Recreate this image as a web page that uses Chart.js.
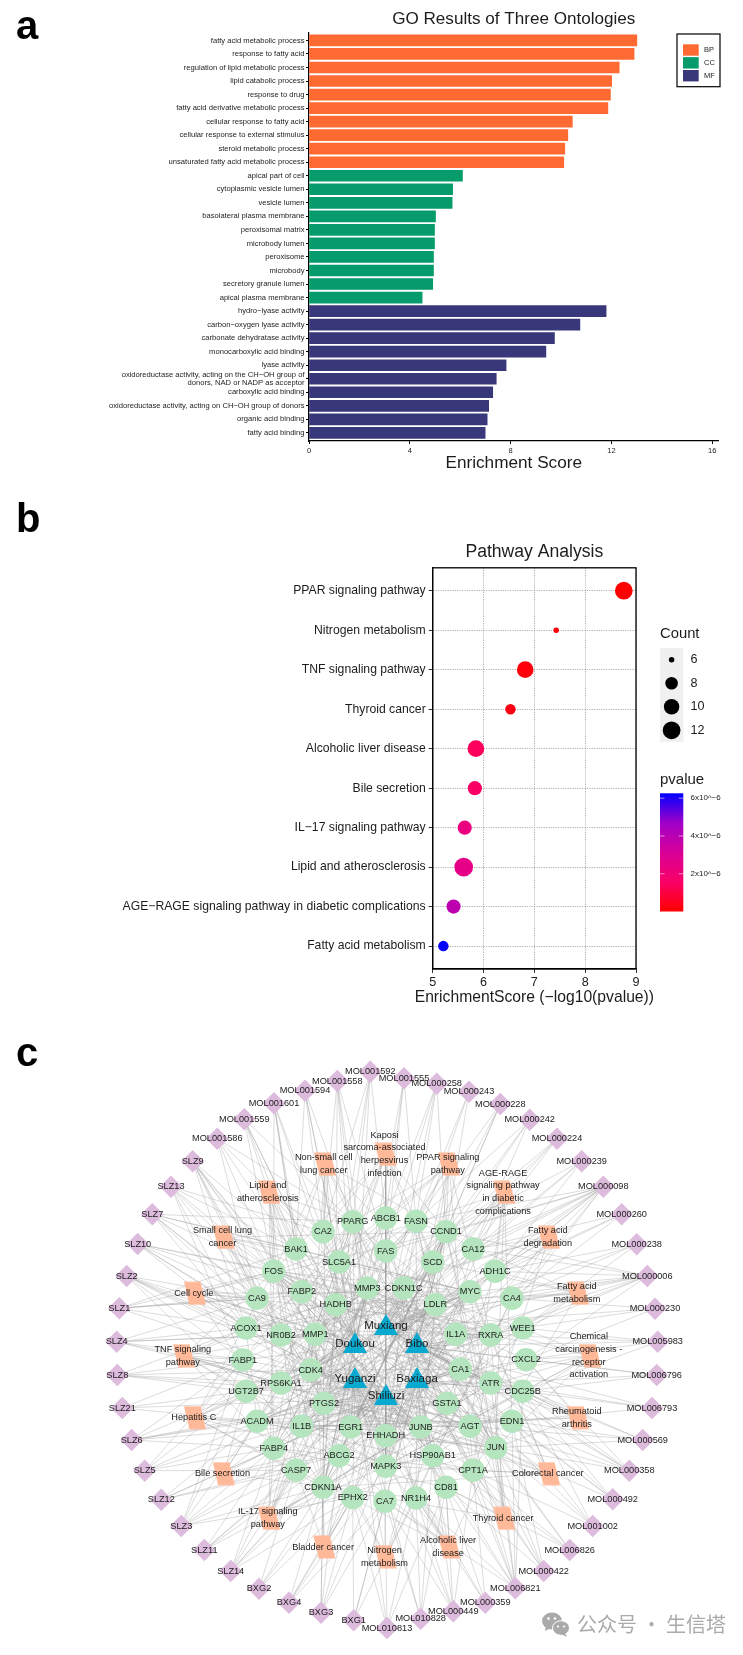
<!DOCTYPE html>
<html lang="en">
<head>
<meta charset="UTF-8">
<title>GO, pathway and network figure</title>
<script src="https://cdn.jsdelivr.net/npm/chart.js"></script>
<style>
    html, body { margin: 0; padding: 0; background: #fff; }
    #page { position: relative; width: 743px; height: 1655px; overflow: hidden; font-family: "Liberation Sans", Arial, sans-serif; }
    canvas { position: absolute; left: 0; filter: blur(0.35px); }
    .tag { position: absolute; left: 16px; font-weight: bold; font-size: 40px; line-height: 1; color: #000; }
    #mark { position: absolute; left: 577px; top: 1609px; font-family: "Noto Sans CJK SC"; font-size: 20px; line-height: 30px; color: #aaa; white-space: pre; }
    #logo { position: absolute; left: 541px; top: 1612px; }
</style>
</head>
<body>
<div id="page">
    <canvas id="goChart" style="top:0" width="743" height="480"></canvas>
    <canvas id="pathChart" style="top:490px" width="743" height="530"></canvas>
    <canvas id="netChart" style="top:1030px" width="743" height="625"></canvas>
    <div class="tag" style="top:5px">a</div>
    <div class="tag" style="top:498px">b</div>
    <div class="tag" style="top:1032px">c</div>
    <svg id="logo" width="30" height="26" viewBox="0 0 30 26">
        <ellipse cx="11" cy="9" rx="10" ry="8.5" fill="#aaa"/>
        <path d="M5 14 L4 19 L10 16 Z" fill="#aaa"/>
        <ellipse cx="20" cy="16" rx="8.5" ry="7.3" fill="#aaa" stroke="#fff" stroke-width="1"/>
        <path d="M24 21 L26 25 L20 22 Z" fill="#aaa"/>
        <circle cx="7.5" cy="6.5" r="1.3" fill="#fff"/><circle cx="14" cy="6.5" r="1.3" fill="#fff"/>
        <circle cx="17" cy="14.5" r="1.1" fill="#fff"/><circle cx="23" cy="14.5" r="1.1" fill="#fff"/>
    </svg>
    <div id="mark">公众号 · 生信塔</div>
</div>

<script>
    const FONT = '"Liberation Sans", Arial, sans-serif';
    const INK = '#1c1c1c';

    // panel a
    const bpTerms = ['fatty acid metabolic process', 'response to fatty acid', 'regulation of lipid metabolic process', 'lipid catabolic process', 'response to drug', 'fatty acid derivative metabolic process', 'cellular response to fatty acid', 'cellular response to external stimulus', 'steroid metabolic process', 'unsaturated fatty acid metabolic process'];
    const bpScores = [13.01, 12.9, 12.31, 12.01, 11.96, 11.86, 10.45, 10.27, 10.15, 10.11];
    const ccTerms = ['apical part of cell', 'cytoplasmic vesicle lumen', 'vesicle lumen', 'basolateral plasma membrane', 'peroxisomal matrix', 'microbody lumen', 'peroxisome', 'microbody', 'secretory granule lumen', 'apical plasma membrane'];
    const ccScores = [6.09, 5.7, 5.68, 5.02, 4.98, 4.98, 4.94, 4.94, 4.91, 4.49];
    const mfTerms = ['hydro−lyase activity', 'carbon−oxygen lyase activity', 'carbonate dehydratase activity', 'monocarboxylic acid binding', 'lyase activity', ['oxidoreductase activity, acting on the CH−OH group of', 'donors, NAD or NADP as acceptor'], 'carboxylic acid binding', 'oxidoreductase activity, acting on CH−OH group of donors', 'organic acid binding', 'fatty acid binding'];
    const mfScores = [11.79, 10.75, 9.74, 9.4, 7.82, 7.43, 7.29, 7.13, 7.07, 6.99];
    const goTicks = [0, 4, 8, 12, 16];
    const goLegend = ['BP', 'CC', 'MF'];
    const goColors = ['#ff6a33', '#069b6b', '#38377a'];

    // panel b
    const pathwayTerms = ['PPAR signaling pathway', 'Nitrogen metabolism', 'TNF signaling pathway', 'Thyroid cancer', 'Alcoholic liver disease', 'Bile secretion', 'IL−17 signaling pathway', 'Lipid and atherosclerosis', 'AGE−RAGE signaling pathway in diabetic complications', 'Fatty acid metabolism'];
    const pathwayScores = [8.76, 7.43, 6.82, 6.53, 5.85, 5.83, 5.63, 5.61, 5.41, 5.21];
    const pathwayCounts = [12, 6, 11, 7, 11, 9, 9, 13, 9, 7];
    const pathwayP = [0.002e-6, 0.04e-6, 0.15e-6, 0.3e-6, 1.4e-6, 1.5e-6, 2.3e-6, 2.5e-6, 3.9e-6, 6.2e-6];
    const countLegend = [6, 8, 10, 12];
    const pLegend = [2e-6, 4e-6, 6e-6];
    const pLegendLabels = ['2x10^−6', '4x10^−6', '6x10^−6'];
    const pRampColors = ['#ff0000', '#fa0068', '#d80098', '#a000c8', '#0000ff'];
    const P_MAX = 6.26e-6;

    const herbNames = ['Muxiang', 'Doukou', 'Bibo', 'Yuganzi', 'Baxiaga', 'Shiliuzi'];
    const herbX = [386, 355, 417, 355, 417, 386];
    const herbY = [1328, 1346, 1346, 1381, 1381, 1398];
    const herbTargets = [
        'MMP3 CDKN1C FAS SCD LDLR MYC ADH1C IL1A RXRA CA1 ATR GSTA1 HADHB SLC5A1 ABCB1 FASN CCND1 CA12 CA4 WEE1 AGT JUNB PTGS2 EHHADH',
        'MMP1 NR0B2 FABP2 HADHB FOS BAK1 CA2 PPARG ACOX1 CA9 FABP1 CDK4 RPS6KA1 UGT2B7 PTGS2 IL1B ACADM EGR1 SLC5A1 MMP3',
        'IL1A RXRA WEE1 CXCL2 MYC LDLR CDKN1C CA4 ADH1C CA1 ATR CDC25B EDN1 AGT GSTA1 JUNB SCD CA12 CCND1 FASN',
        'CDK4 RPS6KA1 UGT2B7 ACADM PTGS2 IL1B EGR1 FABP4 ABCG2 CASP7 MAPK3 EHHADH CDKN1A EPHX2 CA7 MMP1 NR0B2 FABP1',
        'CA1 ATR CDC25B GSTA1 AGT JUNB JUN EDN1 HSP90AB1 CPT1A CD81 NR1H4 EHHADH MAPK3 CA7 CXCL2 RXRA IL1A',
        'PTGS2 EGR1 EHHADH MAPK3 JUNB GSTA1 ABCG2 HSP90AB1 IL1B AGT CA1 CDK4 FABP4 CASP7 CPT1A CD81 CDKN1A EPHX2 CA7 NR1H4'
    ];

    const geneNames = ['CA2', 'PPARG', 'ABCB1', 'FASN', 'CCND1', 'CA12', 'SCD', 'FAS', 'SLC5A1', 'BAK1', 'FOS', 'ADH1C', 'FABP2', 'MMP3', 'CDKN1C', 'MYC', 'CA9', 'CA4', 'HADHB', 'LDLR', 'ACOX1', 'NR0B2', 'MMP1', 'IL1A', 'RXRA', 'WEE1', 'FABP1', 'CDK4', 'RPS6KA1', 'UGT2B7', 'PTGS2', 'ACADM', 'IL1B', 'EGR1', 'EHHADH', 'FABP4', 'ABCG2', 'MAPK3', 'CASP7', 'CDKN1A', 'EPHX2', 'CA7', 'NR1H4', 'CD81', 'CPT1A', 'HSP90AB1', 'JUNB', 'JUN', 'AGT', 'EDN1', 'GSTA1', 'ATR', 'CDC25B', 'CA1', 'CXCL2'];
    const geneX = [323, 352.7, 385.7, 416, 446, 473, 432.7, 385.7, 339, 296, 273.7, 495, 301.7, 367.3, 403.7, 470, 257, 512, 335.7, 435.3, 246, 281, 315.3, 455.7, 490.7, 522.7, 242.7, 310.7, 281, 246, 324, 257, 301.7, 350.7, 385.7, 273.7, 339, 385.7, 296, 323, 352.7, 385, 416, 446, 473, 432.7, 420.7, 495.7, 470, 512, 447, 490.7, 522.7, 460.3, 526];
    const geneY = [1231.7, 1221.7, 1218, 1221.3, 1231.7, 1249, 1262, 1251, 1262, 1249, 1271.3, 1271.3, 1291.7, 1288, 1288, 1291.7, 1298.3, 1298.3, 1304.7, 1304.7, 1328, 1335, 1334.3, 1334.3, 1335, 1328, 1360, 1370, 1383, 1391.3, 1403.3, 1421.3, 1426.3, 1427, 1435.7, 1448.3, 1455.7, 1466.3, 1470.3, 1487.3, 1497.7, 1501.3, 1498, 1487.3, 1470.3, 1455.7, 1427, 1447.7, 1426.3, 1421.3, 1403.3, 1383, 1391.3, 1369.3, 1359.7];
    // links among the inner ring, these make the dark middle of the network
    const geneHubs = ['PTGS2', 'JUN', 'FOS', 'MAPK3', 'MYC', 'CCND1', 'CDKN1A', 'EGR1', 'IL1B', 'PPARG', 'HSP90AB1', 'MMP3', 'RXRA', 'CDK4', 'FABP4', 'FASN', 'JUNB', 'ATR', 'ACADM', 'CDKN1C'];
    const geneHubTargets = [
        'JUN FOS MYC CCND1 PPARG MMP3 IL1A RXRA LDLR AGT EDN1 CDC25B',
        'FOS IL1B MAPK3 MMP1 MMP3 CCND1 CDK4 EGR1 PPARG FAS CDKN1C NR0B2',
        'MYC EGR1 JUNB IL1A MMP1 CDKN1A HSP90AB1 AGT CD81 ATR RXRA GSTA1',
        'CCND1 MYC IL1B PPARG CDKN1C FAS RPS6KA1 HSP90AB1 SLC5A1 CDC25B WEE1',
        'CDKN1A CDK4 EGR1 IL1B ACOX1 UGT2B7 RPS6KA1 HADHB BAK1 NR0B2',
        'CDKN1A CDK4 EGR1 MAPK3 RPS6KA1 ABCG2 JUNB CASP7 EHHADH',
        'CCND1 CDC25B ATR MMP3 IL1A FAS HADHB SCD ABCB1 SLC5A1',
        'IL1A LDLR SCD ADH1C CA12 FABP2 CA9 WEE1',
        'IL1A MMP1 AGT EDN1 CXCL2 LDLR SLC5A1 ABCB1 MMP3 CA1',
        'FABP1 FABP4 ACADM CPT1A EHHADH RXRA LDLR NR0B2 NR1H4 ACOX1 GSTA1',
        'PPARG CA4 ABCB1 CDKN1C ADH1C ATR BAK1 FABP2 CA2',
        'MMP1 IL1A CDKN1A EDN1 CASP7 CPT1A GSTA1 CXCL2 UGT2B7',
        'NR0B2 NR1H4 ACOX1 UGT2B7 ABCG2 CPT1A ACADM HADHB',
        'CDKN1C CDC25B WEE1 CA1 GSTA1 JUNB AGT LDLR',
        'PPARG FABP1 FABP2 CPT1A SCD FASN LDLR CD81 CA1',
        'SCD ACOX1 ACADM LDLR CPT1A HADHB UGT2B7 EHHADH RPS6KA1',
        'FOS EDN1 AGT UGT2B7 MMP1 CD81 NR0B2 ACOX1',
        'CDKN1A WEE1 CDC25B FABP2 CA9 HADHB UGT2B7 BAK1',
        'HADHB EHHADH CPT1A ACOX1 GSTA1 CA1 EDN1 ADH1C',
        'CDK4 CA1 ATR WEE1 UGT2B7 FABP1 EPHX2 ABCG2'
    ];

    const pathNames = ['Non-small cell\nlung cancer', 'Kaposi\nsarcoma-associated\nherpesvirus\ninfection', 'Lipid and\natherosclerosis', 'Small cell lung\ncancer', 'Cell cycle', 'TNF signaling\npathway', 'Hepatitis C', 'Bile secretion', 'IL-17 signaling\npathway', 'Bladder cancer', 'Nitrogen\nmetabolism', 'Alcoholic liver\ndisease', 'Thyroid cancer', 'Colorectal cancer', 'Rheumatoid\narthritis', 'Chemical\ncarcinogenesis -\nreceptor\nactivation', 'Fatty acid\nmetabolism', 'Fatty acid\ndegradation', 'AGE-RAGE\nsignaling pathway\nin diabetic\ncomplications', 'PPAR signaling\npathway'];
    const pathX = [325, 385.7, 269, 223.7, 195, 184, 195, 223.7, 269, 324.3, 385.7, 449.3, 504.3, 549, 578, 590, 578, 549, 504.3, 449];
    const pathY = [1164, 1154.3, 1192.3, 1237.3, 1293.3, 1355.7, 1417.7, 1473.7, 1518.3, 1547, 1556.7, 1547, 1518.3, 1473.7, 1417.7, 1355.7, 1293.3, 1237.3, 1192.3, 1164];
    const pathTargets = [
        'CA2 FOS BAK1 CCND1 CDK4 MAPK3 RXRA JUN EGR1 PPARG CDKN1A',
        'PPARG CA2 FOS JUN CCND1 CDK4 MAPK3 SLC5A1 IL1B FAS ATR',
        'CA2 BAK1 FOS PPARG CD81 FABP4 IL1B MAPK3 JUN LDLR CASP7 PTGS2',
        'FOS CA9 BAK1 CCND1 CDK4 CDKN1A PTGS2 RXRA MYC',
        'CA9 FOS ACOX1 CDK4 CCND1 CDKN1A MYC ATR WEE1 CDC25B',
        'FABP1 ACOX1 FOS MMP3 JUNB JUN MAPK3 PTGS2 IL1B CASP7 EDN1 MMP1',
        'UGT2B7 FABP1 FOS JUN MAPK3 CDKN1A CCND1 MYC EGR1 CDK4 CASP7',
        'ACADM FABP4 UGT2B7 ABCG2 ABCB1 LDLR NR1H4 EHHADH',
        'CASP7 CDKN1A FABP4 FOS JUN JUNB MAPK3 IL1B PTGS2 MMP1 MMP3',
        'CDKN1A EPHX2 CASP7 CCND1 MMP1 MYC EGR1',
        'CA7 EPHX2 CA1 CA2 CA4 CA9 CA12',
        'CA7 NR1H4 CD81 JUN FOS MAPK3 IL1B FAS CASP7 EHHADH',
        'CPT1A CD81 JUN CCND1 MYC RXRA CDKN1A FOS',
        'CPT1A JUN JUNB EDN1 CCND1 MYC FOS MAPK3 PTGS2 CDKN1A',
        'EDN1 CDC25B JUN FOS IL1B CXCL2 MMP1 MMP3 ATR',
        'CXCL2 CDC25B WEE1 JUN MAPK3 FOS RXRA PTGS2 EGR1 HSP90AB1',
        'WEE1 CA4 ADH1C ACOX1 CPT1A EHHADH ACADM HADHB FASN SCD',
        'ADH1C CA12 ACADM CPT1A EHHADH HADHB ACOX1 CA4',
        'CCND1 CA12 ADH1C FOS JUN MAPK3 EDN1 CDK4 IL1B CASP7 AGT',
        'CCND1 FASN SCD PPARG ACOX1 CPT1A FABP1 FABP2 FABP4 EHHADH RXRA NR1H4'
    ];

    const compoundNames = ['MOL001592', 'MOL001558', 'MOL001594', 'MOL001601', 'MOL001559', 'MOL001586', 'SLZ9', 'SLZ13', 'SLZ7', 'SLZ10', 'SLZ2', 'SLZ1', 'SLZ4', 'SLZ8', 'SLZ21', 'SLZ6', 'SLZ5', 'SLZ12', 'SLZ3', 'SLZ11', 'SLZ14', 'BXG2', 'BXG4', 'BXG3', 'BXG1', 'MOL010813', 'MOL010828', 'MOL000449', 'MOL000359', 'MOL006821', 'MOL000422', 'MOL006826', 'MOL001002', 'MOL000492', 'MOL000358', 'MOL000569', 'MOL006793', 'MOL006796', 'MOL005983', 'MOL000230', 'MOL000006', 'MOL000238', 'MOL000260', 'MOL000098', 'MOL000239', 'MOL000224', 'MOL000242', 'MOL000228', 'MOL000243', 'MOL000258', 'MOL001555'];
    const compoundX = [370.3, 337.3, 305, 274, 244.3, 217.3, 192.7, 171, 152.3, 137.7, 126.7, 119.3, 116.7, 117.3, 122.3, 131.7, 144.7, 161.3, 181.3, 204.3, 230.7, 259, 289, 321, 353.7, 387, 420.7, 453.3, 485.3, 515.3, 543.7, 569.7, 592.7, 612.7, 629.3, 642.7, 652, 656.7, 657.7, 655, 647.3, 636.7, 621.7, 603.3, 581.7, 557, 529.7, 500.3, 469, 436.7, 404];
    const compoundY = [1071.7, 1081, 1090.7, 1103.3, 1119.3, 1138.7, 1161.3, 1186.7, 1214.3, 1244, 1276, 1308.3, 1341.7, 1375, 1408, 1440, 1470.7, 1499.7, 1526, 1550, 1571, 1588.7, 1602.7, 1612.7, 1620.3, 1628, 1618.7, 1611.3, 1602.7, 1588.3, 1571, 1550, 1526, 1499.3, 1470.7, 1440, 1408, 1375, 1341.7, 1308.7, 1276, 1244.3, 1214.3, 1186.7, 1161.3, 1138.7, 1119.7, 1104, 1091.7, 1083.7, 1078.3];
    const compoundTargets = [
        'Doukou ABCB1 PPARG SLC5A1 CA2',
        'Doukou PPARG CA2 FAS MMP3 HADHB',
        'Doukou CA2 BAK1 PPARG SLC5A1',
        'Doukou BAK1 CA2 FOS FABP2 PTGS2',
        'Doukou FOS BAK1 PPARG FABP2 HADHB',
        'Doukou PPARG FOS CA9 MMP3',
        'Shiliuzi FOS CA9 FABP2 BAK1 NR0B2 ACOX1 MMP1 PTGS2',
        'Shiliuzi FOS CA9 CA2 ACOX1 BAK1 FABP1',
        'Shiliuzi CA9 FOS ACOX1 BAK1 MYC NR0B2 PPARG',
        'Shiliuzi CA9 ACOX1 FOS FABP2 MMP3 NR0B2',
        'Shiliuzi ACOX1 CA9 FABP1 NR0B2 UGT2B7 CDK4 MMP1',
        'Shiliuzi ACOX1 FOS BAK1 CA9 FABP2 CDKN1C',
        'Shiliuzi ACOX1 FABP1 NR0B2 RPS6KA1 MMP1 CA9',
        'Shiliuzi FABP1 UGT2B7 RPS6KA1 ACOX1 CDK4',
        'Shiliuzi UGT2B7 FABP1 ACADM',
        'Shiliuzi UGT2B7 ACADM FABP4 IL1B FABP1 PTGS2',
        'Shiliuzi ACADM FABP4 UGT2B7 CASP7 FABP1',
        'Shiliuzi FABP4 CASP7 ACADM ABCG2',
        'Shiliuzi FABP4 CASP7 ACADM UGT2B7 CDKN1A EPHX2 FABP1',
        'Shiliuzi CASP7 CDKN1A FABP4 ABCG2',
        'Shiliuzi CASP7 CDKN1A EPHX2 ABCG2 IL1B FABP4',
        'Baxiaga CDKN1A CASP7 EPHX2',
        'Baxiaga CDKN1A EPHX2 CA7 MAPK3',
        'Baxiaga CDKN1A EPHX2 CA7 PTGS2 ABCG2',
        'Baxiaga EPHX2 CA7 NR1H4',
        'Yuganzi CA7 EPHX2 NR1H4 CD81',
        'Yuganzi CA7 NR1H4 CD81 HSP90AB1',
        'Yuganzi NR1H4 CD81 CPT1A CA7 HSP90AB1',
        'Yuganzi CD81 NR1H4 CPT1A',
        'Bibo CPT1A JUN EDN1 CD81 NR1H4 CA7 HSP90AB1 AGT ATR CDC25B',
        'Baxiaga CPT1A JUN CD81 EDN1 AGT',
        'Bibo CPT1A JUN CD81 HSP90AB1',
        'Bibo CPT1A JUN EDN1 CDC25B',
        'Muxiang JUN EDN1 CDC25B ATR',
        'Muxiang JUN EDN1 CDC25B AGT CXCL2 ATR',
        'Muxiang EDN1 CDC25B JUN AGT',
        'Bibo CDC25B EDN1 ATR',
        'Bibo CDC25B CXCL2 ATR',
        'Bibo CXCL2 CDC25B WEE1 RXRA',
        'Muxiang WEE1 CXCL2 CA4',
        'Muxiang WEE1 CA4 ADH1C RXRA MYC CXCL2 IL1A CCND1 CA12 LDLR',
        'Muxiang CA4 ADH1C WEE1',
        'Muxiang ADH1C CA12 CA4',
        'Muxiang ADH1C CA12 CCND1 CA4 MYC SCD LDLR FASN RXRA IL1A CDKN1C FAS',
        'Muxiang CA12 ADH1C CCND1',
        'Muxiang CA12 CCND1 SCD',
        'Muxiang CCND1 CA12 FASN',
        'Muxiang CCND1 FASN SCD',
        'Muxiang FASN CCND1',
        'Muxiang FASN ABCB1 CCND1 FAS',
        'Doukou ABCB1 FASN FAS'
    ];

    Chart.defaults.font.family = FONT;
    Chart.defaults.animation = false;
    Chart.defaults.events = [];

    function putText(ctx, text, x, y, font, align, color) {
        ctx.font = font;
        ctx.textAlign = align || 'center';
        ctx.textBaseline = 'middle';
        ctx.fillStyle = color || INK;
        ctx.fillText(text, x, y);
    }

    // panel a ------------------------------------------------------------
    const goTerms = bpTerms.concat(ccTerms, mfTerms);

    function goSeries(label, scores, start, color) {
        return {
            label: label,
            data: scores.map((v, i) => ({ x: v, y: start + i })),
            backgroundColor: color,
            barThickness: 11,
            grouped: false
        };
    }

    new Chart(document.getElementById('goChart'), {
        type: 'bar',
        data: {
            datasets: [
                goSeries(goLegend[0], bpScores, 0, goColors[0]),
                goSeries(goLegend[1], ccScores, bpScores.length, goColors[1]),
                goSeries(goLegend[2], mfScores, bpScores.length + ccScores.length, goColors[2])
            ]
        },
        options: {
            responsive: false,
            indexAxis: 'y',
            layout: { padding: { top: 32.3, right: 24.5 } },
            plugins: { legend: { display: false }, tooltip: { enabled: false } },
            scales: {
                x: {
                    type: 'linear',
                    min: 0,
                    max: 16.25,
                    afterBuildTicks: s => { s.ticks = goTicks.map(v => ({ value: v })); },
                    afterFit: s => { s.height = 39; },
                    grid: { drawOnChartArea: false, tickLength: 3, tickColor: '#000' },
                    border: { color: '#000', width: 1.2 },
                    ticks: { color: INK, font: { size: 7.5 }, padding: 2, maxRotation: 0 },
                    title: { display: true, text: 'Enrichment Score', color: INK, font: { size: 17.2 }, padding: { top: 0, bottom: 6.7 } }
                },
                y: {
                    type: 'linear',
                    reverse: true,
                    offset: false,
                    min: -0.6,
                    max: 29.6,
                    afterBuildTicks: s => { s.ticks = goTerms.map((t, i) => ({ value: i })); },
                    afterFit: s => { s.width = 309; },
                    grid: { offset: false, drawOnChartArea: false, tickLength: 3, tickColor: '#000' },
                    border: { color: '#000', width: 1.2 },
                    ticks: { color: INK, autoSkip: false, font: { size: 7.6, lineHeight: 1.05 }, padding: 1.5, callback: v => goTerms[v] }
                }
            }
        },
        plugins: [{
            id: 'goExtras',
            afterDraw(chart) {
                const ctx = chart.ctx;
                const area = chart.chartArea;
                putText(ctx, 'GO Results of Three Ontologies', (area.left + area.right) / 2, 19, '17.1px ' + FONT);
                ctx.strokeStyle = '#000';
                ctx.lineWidth = 1.2;
                ctx.strokeRect(677, 34, 43, 52.7);
                goLegend.forEach((name, i) => {
                    ctx.fillStyle = goColors[i];
                    ctx.fillRect(683, 44.3 + i * 12.85, 15.7, 11.4);
                    putText(ctx, name, 704, 50 + i * 12.85, '7.5px ' + FONT, 'left');
                });
            }
        }]
    });

    // panel b ------------------------------------------------------------
    // area scale, count 6 to 13 gives diameters 5.5 to 18.7 px
    function countRadius(count) {
        return (5.5 + Math.sqrt((count - 6) / 7) * 13.2) / 2;
    }

    function pColor(p) {
        const pos = Math.min(p / P_MAX, 1) * (pRampColors.length - 1);
        const i = Math.min(Math.floor(pos), pRampColors.length - 2);
        const f = pos - i;
        const parts = [1, 3, 5].map(k => {
            const a = parseInt(pRampColors[i].substr(k, 2), 16);
            const b = parseInt(pRampColors[i + 1].substr(k, 2), 16);
            return Math.round(a + (b - a) * f);
        });
        return 'rgb(' + parts.join(',') + ')';
    }

    new Chart(document.getElementById('pathChart'), {
        type: 'bubble',
        data: {
            datasets: [{
                data: pathwayScores.map((v, i) => ({ x: v, y: i, r: countRadius(pathwayCounts[i]) })),
                backgroundColor: pathwayP.map(pColor),
                borderWidth: 0
            }]
        },
        options: {
            responsive: false,
            layout: { autoPadding: false, padding: { top: 77.8, right: 107 } },
            plugins: { legend: { display: false }, tooltip: { enabled: false } },
            scales: {
                x: {
                    type: 'linear',
                    min: 5,
                    max: 9,
                    afterFit: s => { s.height = 51; },
                    grid: { color: '#9a9a9a', lineWidth: 0.8, tickLength: 4, tickColor: '#000' },
                    border: { color: '#000', width: 1.2, dash: [1.2, 1.2] },
                    ticks: { stepSize: 1, color: INK, font: { size: 12.6 }, padding: 2, maxRotation: 0 }
                },
                y: {
                    type: 'linear',
                    reverse: true,
                    min: -0.58,
                    max: 9.58,
                    afterBuildTicks: s => { s.ticks = pathwayTerms.map((t, i) => ({ value: i })); },
                    afterFit: s => { s.width = 432.7; },
                    grid: { color: '#9a9a9a', lineWidth: 0.8, tickLength: 4, tickColor: '#000' },
                    border: { color: '#000', width: 1.2, dash: [1.2, 1.2] },
                    ticks: { color: INK, autoSkip: false, font: { size: 12.2 }, padding: 3, callback: v => pathwayTerms[v] }
                }
            }
        },
        plugins: [{
            id: 'pathExtras',
            afterDraw(chart) {
                const ctx = chart.ctx;
                const area = chart.chartArea;
                const midX = (area.left + area.right) / 2;
                ctx.strokeStyle = '#000';
                ctx.lineWidth = 1.3;
                ctx.strokeRect(area.left, area.top, area.right - area.left, area.bottom - area.top);
                putText(ctx, 'Pathway Analysis', midX, 62.5, '17.6px ' + FONT);
                // the scale title squeezes text to the area width, this one is wider
                putText(ctx, 'EnrichmentScore (−log10(pvalue))', midX, 508, '15.7px ' + FONT);

                // size key
                putText(ctx, 'Count', 660, 143.7, '14.8px ' + FONT, 'left');
                ctx.fillStyle = '#f0f0f0';
                ctx.fillRect(660, 157.9, 23.4, 94);
                countLegend.forEach((c, i) => {
                    const y = 169.7 + i * 23.55;
                    ctx.fillStyle = '#000';
                    ctx.beginPath();
                    ctx.arc(671.6, y, countRadius(c), 0, Math.PI * 2);
                    ctx.fill();
                    putText(ctx, String(c), 690.5, y, '12.6px ' + FONT, 'left');
                });

                // colour key
                putText(ctx, 'pvalue', 660, 290, '15px ' + FONT, 'left');
                const top = 303.3, bottom = 421.5;
                const ramp = ctx.createLinearGradient(0, bottom, 0, top);
                pRampColors.forEach((c, i) => ramp.addColorStop(i / (pRampColors.length - 1), c));
                ctx.fillStyle = ramp;
                ctx.fillRect(660, top, 23.3, bottom - top);
                pLegend.forEach((p, i) => {
                    const y = bottom - (p / P_MAX) * (bottom - top);
                    ctx.strokeStyle = 'rgba(255,255,255,0.7)';
                    ctx.lineWidth = 0.8;
                    ctx.beginPath();
                    ctx.moveTo(660, y); ctx.lineTo(664.5, y);
                    ctx.moveTo(678.8, y); ctx.lineTo(683.3, y);
                    ctx.stroke();
                    putText(ctx, pLegendLabels[i], 690.5, y, '8px ' + FONT, 'left');
                });
            }
        }]
    });

    // panel c ------------------------------------------------------------
    function findNode(name) {
        let i = geneNames.indexOf(name);
        if (i >= 0) return { x: geneX[i], y: geneY[i] };
        i = herbNames.indexOf(name);
        return { x: herbX[i], y: herbY[i] };
    }

    function edgeSet(x, y, targets) {
        const pts = [];
        targets.split(' ').forEach(name => {
            pts.push({ x: x, y: y }, findNode(name), { x: null, y: null });
        });
        return {
            type: 'scatter',
            data: pts,
            showLine: true,
            spanGaps: false,
            borderColor: 'rgba(150,150,150,0.45)',
            borderWidth: 0.75,
            pointRadius: 0
        };
    }

    function nodeSet(xs, ys, color, style, radius) {
        return {
            type: 'scatter',
            data: xs.map((x, i) => ({ x: x, y: ys[i] })),
            backgroundColor: color,
            borderWidth: 0,
            pointStyle: style,
            pointRadius: radius
        };
    }

    // slanted box used for the pathway nodes
    const slantBox = document.createElement('canvas');
    slantBox.width = 24;
    slantBox.height = 24;
    const sb = slantBox.getContext('2d');
    sb.fillStyle = '#ffb999';
    sb.beginPath();
    sb.moveTo(1, 0.5);
    sb.lineTo(17.6, 0.5);
    sb.lineTo(23, 23.5);
    sb.lineTo(6.4, 23.5);
    sb.closePath();
    sb.fill();

    // first dataset is painted last, so the nodes go before the edges
    const netSets = [];
    netSets.push(nodeSet(herbX, herbY, '#0aa9cf', 'triangle', 14));
    netSets.push(nodeSet(geneX, geneY, '#b4e5be', 'circle', 11.7));
    netSets.push(nodeSet(pathX, pathY, '#ffb999', slantBox, 12));
    netSets.push(nodeSet(compoundX, compoundY, '#ddbbdd', 'rectRot', 11.3));
    compoundTargets.forEach((t, i) => netSets.push(edgeSet(compoundX[i], compoundY[i], t)));
    pathTargets.forEach((t, i) => netSets.push(edgeSet(pathX[i], pathY[i], t)));
    herbTargets.forEach((t, i) => netSets.push(edgeSet(herbX[i], herbY[i], t)));
    geneHubTargets.forEach((t, i) => {
        const hub = findNode(geneHubs[i]);
        netSets.push(edgeSet(hub.x, hub.y, t));
    });

    new Chart(document.getElementById('netChart'), {
        type: 'scatter',
        data: { datasets: netSets },
        options: {
            responsive: false,
            // keep the whole canvas as the plot area, nodes sit well inside it
            layout: { autoPadding: false },
            plugins: { legend: { display: false }, tooltip: { enabled: false } },
            scales: {
                x: { type: 'linear', min: 0, max: 743, display: false },
                y: { type: 'linear', min: 1030, max: 1655, reverse: true, display: false }
            }
        },
        plugins: [{
            id: 'netLabels',
            afterDatasetsDraw(chart) {
                const ctx = chart.ctx;
                const sx = chart.scales.x, sy = chart.scales.y;
                const small = '9.2px ' + FONT;
                compoundNames.forEach((n, i) => putText(ctx, n, sx.getPixelForValue(compoundX[i]), sy.getPixelForValue(compoundY[i]), small));
                pathNames.forEach((n, i) => {
                    const lines = n.split('\n');
                    lines.forEach((line, k) => {
                        const y = sy.getPixelForValue(pathY[i]) + (k - (lines.length - 1) / 2) * 12.7;
                        putText(ctx, line, sx.getPixelForValue(pathX[i]) - 1.2, y, small);
                    });
                });
                geneNames.forEach((n, i) => putText(ctx, n, sx.getPixelForValue(geneX[i]), sy.getPixelForValue(geneY[i]), small));
                herbNames.forEach((n, i) => putText(ctx, n, sx.getPixelForValue(herbX[i]), sy.getPixelForValue(herbY[i]) - 2, '11.5px ' + FONT));
            }
        }]
    });
</script>
</body>
</html>
